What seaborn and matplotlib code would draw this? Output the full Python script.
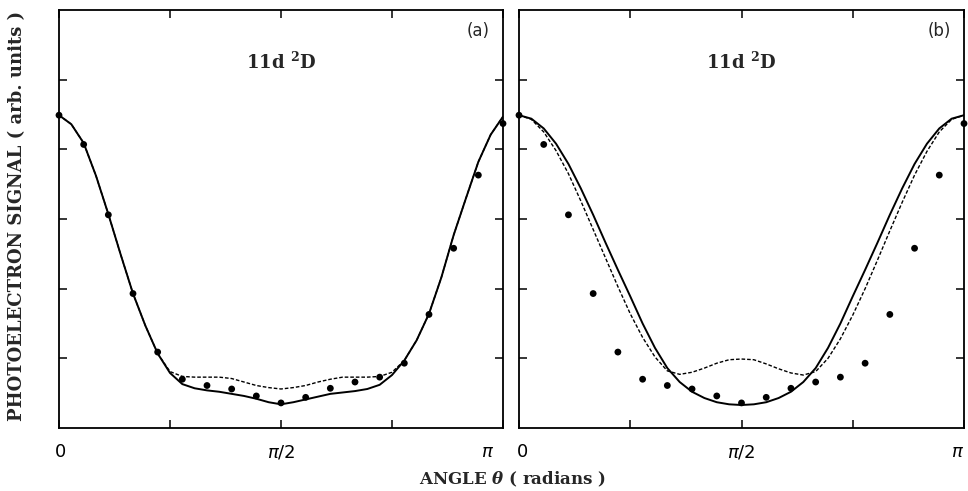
import numpy as np
import matplotlib
matplotlib.use("Agg")
import matplotlib.pyplot as plt
import matplotlib.transforms as mtransforms
import seaborn as sns

angle_deg = [0, 5, 10, 15, 20, 25, 30, 35, 40, 45, 50, 55, 60, 65, 70, 75, 80, 85, 90,
             95, 100, 105, 110, 115, 120, 125, 130, 135, 140, 145, 150, 155, 160, 165, 170, 175, 180]

# panel (a)
a_solid = [4.49, 4.36, 4.09, 3.62, 3.07, 2.49, 1.93, 1.47, 1.07, 0.79, 0.63, 0.57, 0.54, 0.52, 0.49, 0.46, 0.42, 0.37, 0.34,
           0.37, 0.41, 0.45, 0.49, 0.51, 0.53, 0.56, 0.62, 0.76, 0.97, 1.26, 1.64, 2.16, 2.77, 3.30, 3.82, 4.21, 4.47]
a_dashed = [4.49, 4.36, 4.09, 3.62, 3.07, 2.49, 1.93, 1.47, 1.07, 0.81, 0.74, 0.73, 0.73, 0.73, 0.71, 0.66, 0.61, 0.58, 0.56,
            0.58, 0.61, 0.66, 0.70, 0.73, 0.73, 0.73, 0.74, 0.80, 0.97, 1.26, 1.64, 2.16, 2.77, 3.30, 3.82, 4.21, 4.47]

# panel (b)
b_solid = [4.49, 4.44, 4.30, 4.08, 3.79, 3.44, 3.06, 2.66, 2.27, 1.89, 1.50, 1.15, 0.86, 0.66, 0.52, 0.43, 0.37, 0.34, 0.33,
           0.34, 0.37, 0.43, 0.52, 0.66, 0.86, 1.15, 1.50, 1.89, 2.27, 2.66, 3.06, 3.44, 3.79, 4.08, 4.30, 4.44, 4.49]
b_dashed = [4.49, 4.43, 4.25, 3.98, 3.65, 3.26, 2.85, 2.44, 2.03, 1.64, 1.30, 1.02, 0.82, 0.77, 0.80, 0.86, 0.93, 0.98, 0.99,
            0.98, 0.92, 0.85, 0.79, 0.76, 0.81, 1.00, 1.28, 1.62, 2.00, 2.41, 2.83, 3.24, 3.63, 3.97, 4.25, 4.43, 4.49]

# measured points (same in both panels)
data_deg = [0, 10, 20, 30, 40, 50, 60, 70, 80, 90, 100, 110, 120, 130, 140, 150, 160, 170, 180]
data_signal = [4.49, 4.07, 3.06, 1.93, 1.09, 0.70, 0.61, 0.56, 0.46, 0.36, 0.44, 0.57, 0.66, 0.73, 0.93, 1.63, 2.58, 3.63, 4.37]

panel_tags = ["(a)", "(b)"]
x_tick_labels = ["0", "", r"$\pi/2$", "", r"$\pi$"]

sns.set_style("white")
plt.rcParams["font.family"] = ["DejaVu Sans"]

fig = plt.figure(figsize=(9.68, 4.91), dpi=100)
ax_a = fig.add_axes([59 / 968, 63 / 491, 444 / 968, 418 / 491])
ax_b = fig.add_axes([519 / 968, 63 / 491, 445 / 968, 418 / 491])

theta = np.radians(angle_deg)
theta_pts = np.radians(data_deg)

panels = [(ax_a, a_solid, a_dashed, panel_tags[0], [2, 0, 0, 0, -15]),
          (ax_b, b_solid, b_dashed, panel_tags[1], [4, 0, 0, 0, -6])]

for ax, solid, dashed, tag, dxs in panels:
    sns.lineplot(x=theta, y=solid, ax=ax, color="black", lw=1.4, sort=False, estimator=None)
    sns.lineplot(x=theta, y=dashed, ax=ax, color="black", lw=1.0, sort=False, estimator=None,
                 linestyle=(0, (2.6, 1.4)))
    sns.scatterplot(x=theta_pts, y=data_signal, ax=ax, color="black", s=24, edgecolor="none",
                    clip_on=False, zorder=5)

    ax.set_xlim(0, np.pi)
    ax.set_ylim(0, 6)
    ax.set_xticks([0, np.pi / 4, np.pi / 2, 3 * np.pi / 4, np.pi])
    ax.set_xticklabels(x_tick_labels)
    ax.set_yticks([1, 2, 3, 4, 5])
    ax.set_yticklabels([])
    ax.tick_params(direction="in", bottom=True, left=True, top=True, right=True, length=6, width=1.1,
                   pad=11, labelsize=13, colors="black")
    for sp in ax.spines.values():
        sp.set_linewidth(1.3)
        sp.set_color("black")

    ax.text(0.5, 1 - 52 / 418, r"11d $^{\mathbf{2}}$D", transform=ax.transAxes, ha="center", va="center",
            fontsize=13, fontweight="bold", family="DejaVu Serif", math_fontfamily="dejavuserif")
    ax.text(1 - 13 / 444, 1 - 21 / 418, tag, transform=ax.transAxes, ha="right", va="center",
            fontsize=12)

    for lab, dx in zip(ax.get_xticklabels(), dxs):
        lab.set_transform(lab.get_transform() + mtransforms.ScaledTranslation(dx / 100, 0, fig.dpi_scale_trans))

fig.text(17 / 968, 1 - 216 / 491, "PHOTOELECTRON SIGNAL ( arb. units )", rotation=90, ha="center", va="center",
         fontsize=13, fontweight="bold", family="DejaVu Serif")
fig.text(512 / 968, 1 - 479 / 491, r"ANGLE $\boldsymbol{\theta}$ ( radians )", ha="center", va="center",
         fontsize=12, fontweight="bold", family="DejaVu Serif", math_fontfamily="dejavuserif")

fig.savefig("out.png", dpi=100, facecolor="white")
